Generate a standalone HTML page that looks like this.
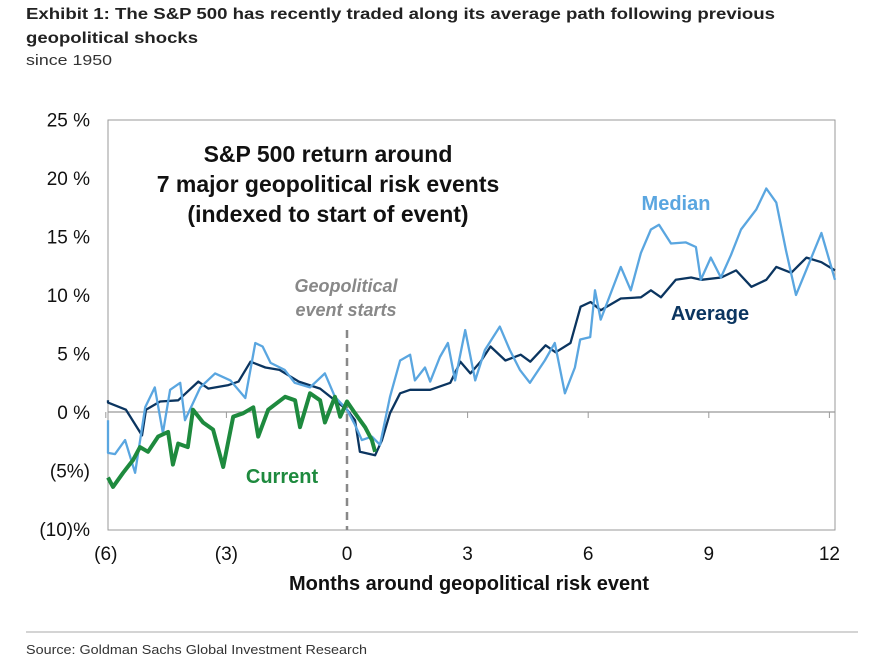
<!DOCTYPE html>
<html><head><meta charset="utf-8"><style>
html,body{margin:0;padding:0;background:#fff;}
svg{display:block;font-family:"Liberation Sans",sans-serif;}
</style></head><body>
<svg id="chart" width="881" height="662" viewBox="0 0 881 662" xmlns="http://www.w3.org/2000/svg">
<text x="26" y="19" font-size="16" font-weight="bold" fill="#222" textLength="749" lengthAdjust="spacingAndGlyphs">Exhibit 1: The S&amp;P 500 has recently traded along its average path following previous</text>
<text x="26" y="43" font-size="16" font-weight="bold" fill="#222" textLength="172" lengthAdjust="spacingAndGlyphs">geopolitical shocks</text>
<text x="26" y="65" font-size="15" fill="#333" textLength="86" lengthAdjust="spacingAndGlyphs">since 1950</text>
<rect x="108" y="120" width="727" height="410" fill="none" stroke="#999" stroke-width="1"/>
<g id="yaxis"></g>
<g id="xaxis"></g>
<g id="series"></g>
<text x="328" y="162" font-size="23" font-weight="bold" text-anchor="middle" fill="#111">S&amp;P 500 return around</text>
<text x="328" y="192" font-size="23" font-weight="bold" text-anchor="middle" fill="#111">7 major geopolitical risk events</text>
<text x="328" y="222" font-size="23" font-weight="bold" text-anchor="middle" fill="#111">(indexed to start of event)</text>
<text x="346" y="292" font-size="18" font-weight="bold" font-style="italic" text-anchor="middle" fill="#888">Geopolitical</text>
<text x="346" y="316" font-size="18" font-weight="bold" font-style="italic" text-anchor="middle" fill="#888">event starts</text>
<text x="676" y="210" font-size="20" font-weight="bold" text-anchor="middle" fill="#5aa6e0">Median</text>
<text x="710" y="320" font-size="20" font-weight="bold" text-anchor="middle" fill="#0b3560">Average</text>
<text x="282" y="483" font-size="20" font-weight="bold" text-anchor="middle" fill="#1e8a3e">Current</text>
<text x="469" y="590" font-size="20" font-weight="bold" text-anchor="middle" fill="#111">Months around geopolitical risk event</text>
<line x1="26" y1="632" x2="858" y2="632" stroke="#aaa" stroke-width="1"/>
<text x="26" y="654" font-size="13" fill="#333" textLength="341" lengthAdjust="spacingAndGlyphs">Source: Goldman Sachs Global Investment Research</text>
</svg>
<script>
const yTicks=[25,20,15,10,5,0,-5,-10];
const yTickLabels=["25 %","20 %","15 %","10 %","5 %","0 %","(5%)","(10)%"];
const xTicks=[-6,-3,0,3,6,9,12];
const xTickLabels=["(6)","(3)","0","3","6","9","12"];
const avgMonths=[-6.2,-5.95,-5.5,-5.1,-5.0,-4.65,-4.2,-3.7,-3.45,-2.95,-2.7,-2.4,-2.03,-1.68,-1.2,-0.67,-0.3,0,0.2,0.32,0.7,0.87,1.07,1.32,1.57,2.07,2.57,2.82,3.07,3.32,3.57,3.94,4.32,4.56,4.94,5.19,5.56,5.81,6.06,6.31,6.81,7.31,7.56,7.81,8.18,8.56,8.81,9.31,9.68,10.06,10.43,10.68,11.05,11.43,11.8,12.17];
const avgValues=[1.0,0.8,0.2,-2.0,0.2,0.9,1.0,2.6,2.0,2.3,2.6,4.3,3.8,3.6,2.6,2.0,1.0,0.2,-0.7,-3.4,-3.7,-2.4,-0.1,1.6,1.9,1.9,2.5,4.3,3.3,4.3,5.6,4.4,4.9,4.3,5.7,5.1,5.9,9.0,9.4,8.7,9.7,9.8,10.4,9.8,11.3,11.5,11.3,11.5,12.1,10.7,11.3,12.4,11.9,13.2,12.8,12.1];
const medMonths=[-6.2,-5.95,-5.77,-5.52,-5.27,-5.02,-4.78,-4.58,-4.4,-4.15,-4.03,-3.65,-3.28,-2.9,-2.53,-2.28,-2.1,-1.9,-1.55,-1.3,-0.92,-0.55,-0.3,0,0.2,0.37,0.62,0.82,1.07,1.32,1.57,1.69,1.94,2.07,2.31,2.51,2.69,2.94,3.19,3.43,3.8,4.05,4.3,4.55,4.92,5.17,5.42,5.67,5.8,6.05,6.17,6.31,6.81,7.06,7.31,7.56,7.76,8.06,8.43,8.68,8.8,9.05,9.3,9.55,9.8,10.18,10.43,10.68,10.92,11.17,11.42,11.8,12.17];
const medValues=[-0.7,-3.5,-3.6,-2.4,-5.2,0.4,2.1,-1.8,1.9,2.5,-0.7,2.1,3.3,2.7,1.2,5.9,5.6,4.2,3.6,2.5,2.1,3.3,1.3,0.2,-1.1,-2.4,-2.1,-2.8,1.3,4.4,4.9,2.7,3.8,2.6,4.7,5.9,2.7,7.0,2.7,5.3,7.3,5.3,3.6,2.5,4.4,5.9,1.6,3.8,6.2,6.4,10.4,7.9,12.4,10.4,13.6,15.6,16.0,14.4,14.5,14.1,11.3,13.2,11.5,13.4,15.6,17.3,19.1,17.9,13.8,10.0,12.1,15.3,11.3];
const curMonths=[-5.95,-5.82,-5.57,-5.32,-5.15,-4.95,-4.7,-4.45,-4.33,-4.2,-3.96,-3.83,-3.58,-3.33,-3.08,-2.83,-2.58,-2.33,-2.21,-1.96,-1.54,-1.29,-1.17,-0.92,-0.67,-0.55,-0.3,-0.17,0,0.2,0.45,0.62,0.7];
const curValues=[-5.6,-6.4,-5.2,-4.1,-3.0,-3.4,-2.1,-1.7,-4.5,-2.7,-3.0,0.2,-0.9,-1.5,-4.7,-0.4,-0.1,0.4,-2.1,0.2,1.3,1.0,-1.3,1.6,1.0,-0.9,1.3,-0.4,0.9,-0.1,-1.3,-2.4,-3.4];

const X0=108,X1=835,Y0=120,Y1=530;
const xs=m=>347+m*40.2;
const ys=v=>412-v*11.7;
const clampX=x=>Math.max(X0,Math.min(X1,x));
const NS="http://www.w3.org/2000/svg";
function mk(tag,attrs,parent){const e=document.createElementNS(NS,tag);for(const k in attrs)e.setAttribute(k,attrs[k]);parent.appendChild(e);return e;}
const ya=document.getElementById('yaxis');
yTicks.forEach((t,i)=>{
  const tx=mk('text',{x:90,y:ys(t)+7,'font-size':19,'text-anchor':'end',fill:'#111'},ya);
  
  
  tx.textContent=yTickLabels[i];
});
const xa=document.getElementById('xaxis');
const zl=mk('line',{x1:X0,x2:X1,y1:ys(0),y2:ys(0),stroke:'#999','stroke-width':1.3},xa);


xTicks.forEach((t,i)=>{
  const tk=mk('line',{x1:xs(t),x2:xs(t),y1:ys(0),y2:ys(0)+6,stroke:'#999','stroke-width':1},xa);
  
  
  const tx=mk('text',{x:xs(t),y:560,'font-size':19,'text-anchor':'middle',fill:'#111'},xa);
  
  
  tx.textContent=xTickLabels[i];
});
const ev=mk('line',{x1:xs(0),x2:xs(0),y1:330,y2:Y1,stroke:'#888','stroke-width':2.5,'stroke-dasharray':'8,6'},xa);


const sg=document.getElementById('series');
function line(ms,vs,color,w,name){
  const d=ms.map((m,i)=>(i?'L':'M')+clampX(xs(m)).toFixed(1)+','+ys(vs[i]).toFixed(1)).join(' ');
  const p=mk('path',{d:d,fill:'none',stroke:color,'stroke-width':w,'stroke-linejoin':'round'},sg);
  
  
}
line(avgMonths,avgValues,'#0b3560',2.3,'average-line');
line(medMonths,medValues,'#5aa6e0',2.3,'median-line');
line(curMonths,curValues,'#1e8a3e',4,'current-line');
</script>
</body></html>
